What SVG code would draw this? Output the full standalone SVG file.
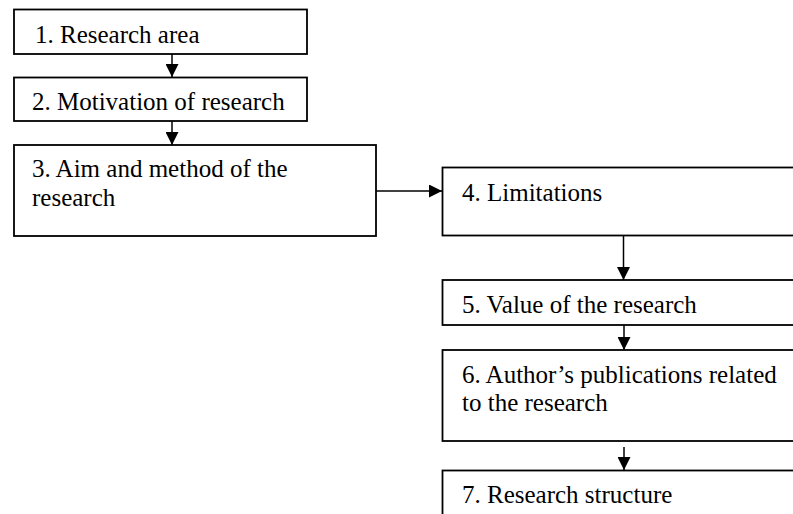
<svg xmlns="http://www.w3.org/2000/svg" width="793" height="514" viewBox="0 0 793 514">
  <style>
    .box { fill: #ffffff; stroke: #000000; stroke-width: 1.8; }
    .label { font-family: "Liberation Serif", "Times New Roman", serif; font-size: 25px; fill: #000000; }
    .link { stroke: #000000; stroke-width: 1.5; fill: none; }
  </style>
  <defs>
    <marker id="arrow" markerUnits="userSpaceOnUse" markerWidth="13" markerHeight="13" refX="13" refY="6.5" orient="auto">
      <path d="M0,0 L13,6.5 L0,13 Z" fill="#000000"/>
    </marker>
  </defs>
  <rect width="793" height="514" fill="#ffffff"/>

  <g id="connectors">
    <line class="link" x1="172" y1="54" x2="172" y2="77" marker-end="url(#arrow)"/>
    <line class="link" x1="172" y1="121" x2="172" y2="145" marker-end="url(#arrow)"/>
    <line class="link" x1="376" y1="191" x2="442" y2="191" marker-end="url(#arrow)"/>
    <line class="link" x1="623.5" y1="235" x2="623.5" y2="280" marker-end="url(#arrow)"/>
    <line class="link" x1="624" y1="325" x2="624" y2="350" marker-end="url(#arrow)"/>
    <line class="link" x1="624" y1="447" x2="624" y2="470" marker-end="url(#arrow)"/>
  </g>

  <g id="node1">
    <rect class="box" x="14" y="9.5" width="293" height="44.5"/>
    <text class="label" x="35" y="42.5">1. Research area</text>
  </g>
  <g id="node2">
    <rect class="box" x="14" y="77.5" width="293" height="43.5"/>
    <text class="label" x="32" y="110">2. Motivation of research</text>
  </g>
  <g id="node3">
    <rect class="box" x="14" y="145" width="362" height="91"/>
    <text class="label" x="32" y="177">3. Aim and method of the</text>
    <text class="label" x="32" y="206">research</text>
  </g>
  <g id="node4">
    <rect class="box" x="442.5" y="167.5" width="360" height="68"/>
    <text class="label" x="462" y="200.5">4. Limitations</text>
  </g>
  <g id="node5">
    <rect class="box" x="442.5" y="280" width="360" height="45"/>
    <text class="label" x="462" y="313">5. Value of the research</text>
  </g>
  <g id="node6">
    <rect class="box" x="442.5" y="350" width="360" height="91"/>
    <text class="label" x="462" y="382.5">6. Author’s publications related</text>
    <text class="label" x="462" y="411">to the research</text>
  </g>
  <g id="node7">
    <rect class="box" x="442.5" y="470.5" width="360" height="60"/>
    <text class="label" x="462" y="503">7. Research structure</text>
  </g>
</svg>
